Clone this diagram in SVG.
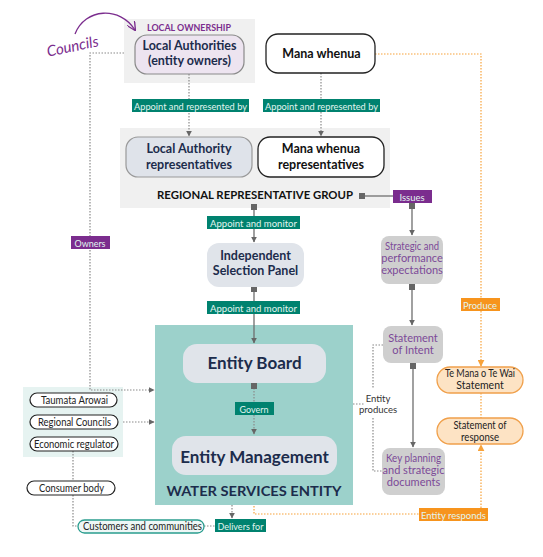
<svg xmlns="http://www.w3.org/2000/svg" width="543" height="557" viewBox="0 0 543 557">
<style>
  text { font-family: Lato, "Noto Sans", "Liberation Sans", sans-serif; }
  .bg { fill: #f0f0f0; }
  .navy { fill: #1c2c4c; font-weight: bold; }
  .blk { fill: #111; font-weight: bold; }
  .purp { fill: #7c4a98; font-size: 11px; }
  .dark { fill: #222; font-size: 10.5px; }
  .lab { font-size: 10px; fill: #e2f5ef; }
  .lt { fill: #00826f; }
  .lp { fill: #7b2d8e; }
  .lo { fill: #f7941d; }
  .solid { stroke: #6e6e6e; stroke-width: 1.3; fill: none; }
  .dot { stroke: #8a8a8a; stroke-width: 1.2; stroke-dasharray: 1.5 1.5; fill: none; }
  .odot { stroke: #f7a23a; stroke-width: 1.2; stroke-dasharray: 1.5 1.5; fill: none; }
  .sq { fill: #666; }
  .pill { fill: #fff; stroke: #222; stroke-width: 1.2; }
  .gbox { fill: #cfcfcf; }
  .ebox { fill: #e0e4ea; }
  .obox { fill: #fde3c4; stroke: #f0a04b; stroke-width: 1.3; }
</style>
<defs>
  <marker id="ag" viewBox="0 0 10 10" refX="9" refY="5" markerWidth="6" markerHeight="6" orient="auto" markerUnits="userSpaceOnUse">
    <path d="M0,0 L10,5 L0,10 z" fill="#666"/>
  </marker>
  <marker id="ao" viewBox="0 0 10 10" refX="9" refY="5" markerWidth="7" markerHeight="7" orient="auto" markerUnits="userSpaceOnUse">
    <path d="M0,0 L10,5 L0,10 z" fill="#f7a23a"/>
  </marker>
  <marker id="ap" viewBox="0 0 10 10" refX="9" refY="5" markerWidth="9" markerHeight="9" orient="auto" markerUnits="userSpaceOnUse">
    <path d="M0,0 L10,5 L0,10" fill="none" stroke="#7b2d8e" stroke-width="1.5"/>
  </marker>
</defs>

<!-- background panels -->
<rect class="bg" x="124" y="19" width="131" height="64"/>
<rect class="bg" x="120" y="128" width="270" height="80"/>
<rect x="155" y="325" width="198" height="180" fill="#9cd1cb"/>
<rect x="23" y="387" width="100" height="70" fill="#e6f3f1"/>

<!-- connectors -->
<g id="connectors">
  <path d="M75,34 C85,8 120,6 135,30" fill="none" stroke="#7b2d8e" stroke-width="1.3" marker-end="url(#ap)"/>
  <path class="dot" d="M189,74 V136" marker-end="url(#ag)"/>
  <path class="dot" d="M321,73 V136" marker-end="url(#ag)"/>
  <path class="solid" d="M254,207 V242" marker-end="url(#ag)"/>
  <path class="solid" d="M254,289 V343" marker-end="url(#ag)"/>
  <path class="dot" d="M254,385 V434" marker-end="url(#ag)"/>
  <path class="solid" d="M362,196 H393"/>
  <path class="solid" d="M412,205 V235" marker-end="url(#ag)"/>
  <path class="solid" d="M412,286 V325" marker-end="url(#ag)"/>
  <path class="solid" d="M413,365 V447" marker-end="url(#ag)"/>
  <path class="dot" d="M383,345 H373 V388 M373,418 V471 H382 M353,404 H364"/>
  <path class="dot" d="M124,53 H90 V390 H154" marker-end="url(#ag)"/>
  <path class="dot" d="M123,422 H154" marker-end="url(#ag)"/>
  <path class="dot" d="M73,451 V481 M73,495 V526 H78"/>
  <path class="dot" d="M204,526 H215"/>
  <path class="dot" d="M232,505 V518" marker-end="url(#ag)"/>
  <path class="odot" d="M254,506 V514 H419"/>
  <path class="odot" d="M481,508 V445" marker-end="url(#ao)"/>
  <path class="odot" d="M375,54 H481 V366" marker-end="url(#ao)"/>
  <path class="odot" d="M481,393 V418"/>
  <rect class="sq" x="359" y="193" width="6" height="6"/>
  <rect class="sq" x="251" y="204" width="6" height="6"/>
  <rect class="sq" x="251" y="286" width="6" height="6"/>
  <rect class="sq" x="251" y="383" width="6" height="6"/>
  <rect class="sq" x="409" y="203" width="6" height="6"/>
  <rect class="sq" x="409" y="284" width="6" height="6"/>
  <rect class="sq" x="410" y="363" width="6" height="6"/>
</g>

<!-- Councils annotation -->
<text x="46" y="52" transform="rotate(-12 70 45)" font-size="15" font-style="italic" fill="#7b2d8e" font-family="Lato, sans-serif">Councils</text>

<g id="local-ownership">
  <text x="189" y="31" text-anchor="middle" font-size="9" font-weight="bold" fill="#7b2d8e" textLength="84" lengthAdjust="spacingAndGlyphs">LOCAL OWNERSHIP</text>
</g>
<g id="local-authorities">
  <rect x="135" y="35" width="109" height="39" rx="12" fill="#ede4f0" stroke="#8a8a8a" stroke-width="1.2"/>
  <text class="navy" x="189.5" y="50" text-anchor="middle" font-size="12.5">Local Authorities</text>
  <text class="navy" x="189.5" y="65" text-anchor="middle" font-size="12.5">(entity owners)</text>
</g>
<g id="mana-whenua">
  <rect x="266" y="34" width="109" height="39" rx="12" fill="#fff" stroke="#222" stroke-width="1.3"/>
  <text class="blk" x="321.5" y="58" text-anchor="middle" font-size="12.5">Mana whenua</text>
</g>
<g id="la-reps">
  <rect x="126" y="137" width="126" height="40" rx="12" fill="#dfe3ea" stroke="#999" stroke-width="1.2"/>
  <text class="navy" x="189" y="153" text-anchor="middle" font-size="12.5">Local Authority</text>
  <text class="navy" x="189" y="169" text-anchor="middle" font-size="12.5">representatives</text>
</g>
<g id="mw-reps">
  <rect x="258" y="137" width="126" height="40" rx="12" fill="#fff" stroke="#222" stroke-width="1.3"/>
  <text class="blk" x="321" y="153" text-anchor="middle" font-size="12.5">Mana whenua</text>
  <text class="blk" x="321" y="169" text-anchor="middle" font-size="12.5">representatives</text>
</g>
<g id="regional-group">
  <text class="blk" x="255" y="199" text-anchor="middle" font-size="11" textLength="196" lengthAdjust="spacingAndGlyphs">REGIONAL REPRESENTATIVE GROUP</text>
</g>
<g id="isp">
  <rect class="ebox" x="207" y="243" width="97" height="44" rx="12"/>
  <text class="navy" x="255.5" y="260" text-anchor="middle" font-size="12.5">Independent</text>
  <text class="navy" x="255.5" y="275" text-anchor="middle" font-size="12.5">Selection Panel</text>
</g>
<g id="entity-board">
  <rect class="ebox" x="183" y="344" width="143" height="39" rx="14"/>
  <text class="navy" x="254.5" y="369" text-anchor="middle" font-size="17">Entity Board</text>
</g>
<g id="entity-management">
  <rect class="ebox" x="172" y="436" width="165" height="39" rx="14"/>
  <text class="navy" x="254.5" y="463" text-anchor="middle" font-size="17">Entity Management</text>
</g>
<g id="water-services-entity">
  <text class="navy" x="254" y="496" text-anchor="middle" font-size="14" textLength="175" lengthAdjust="spacingAndGlyphs">WATER SERVICES ENTITY</text>
</g>
<g id="strategic">
  <rect class="gbox" x="381" y="236" width="62" height="48" rx="8"/>
  <text class="purp" x="412" y="250" text-anchor="middle" textLength="54" lengthAdjust="spacingAndGlyphs">Strategic and</text>
  <text class="purp" x="412" y="262" text-anchor="middle">performance</text>
  <text class="purp" x="412" y="274" text-anchor="middle">expectations</text>
</g>
<g id="statement-of-intent">
  <rect class="gbox" x="383" y="326" width="60" height="37" rx="8"/>
  <text class="purp" x="413" y="342" text-anchor="middle">Statement</text>
  <text class="purp" x="413" y="354" text-anchor="middle">of Intent</text>
</g>
<g id="key-planning">
  <rect class="gbox" x="382" y="448" width="63" height="47" rx="8"/>
  <text class="purp" x="413.5" y="462" text-anchor="middle" textLength="55" lengthAdjust="spacingAndGlyphs">Key planning</text>
  <text class="purp" x="413.5" y="474" text-anchor="middle">and strategic</text>
  <text class="purp" x="413.5" y="486" text-anchor="middle">documents</text>
</g>
<g id="entity-produces">
  <text x="378" y="402" text-anchor="middle" font-size="9.5" fill="#333">Entity</text>
  <text x="378" y="413" text-anchor="middle" font-size="9.5" fill="#333">produces</text>
</g>
<g id="te-mana-o-te-wai">
  <rect class="obox" x="437" y="367" width="86" height="26" rx="13"/>
  <text class="dark" x="480" y="377" text-anchor="middle" textLength="70" lengthAdjust="spacingAndGlyphs">Te Mana o Te Wai</text>
  <text class="dark" x="480" y="389" text-anchor="middle">Statement</text>
</g>
<g id="statement-of-response">
  <rect class="obox" x="437" y="418" width="86" height="26" rx="13"/>
  <text class="dark" x="480" y="429" text-anchor="middle" textLength="53" lengthAdjust="spacingAndGlyphs">Statement of</text>
  <text class="dark" x="480" y="441" text-anchor="middle" textLength="38" lengthAdjust="spacingAndGlyphs">response</text>
</g>
<g id="taumata-arowai">
  <rect class="pill" x="30" y="393" width="87" height="14" rx="7"/>
  <text class="dark" x="74.5" y="403.5" text-anchor="middle" textLength="67" lengthAdjust="spacingAndGlyphs">Taumata Arowai</text>
</g>
<g id="regional-councils">
  <rect class="pill" x="30" y="415" width="88" height="14" rx="7"/>
  <text class="dark" x="74.5" y="425.5" text-anchor="middle" textLength="73" lengthAdjust="spacingAndGlyphs">Regional Councils</text>
</g>
<g id="economic-regulator">
  <rect class="pill" x="30" y="437" width="88" height="14" rx="7"/>
  <text class="dark" x="74" y="447.5" text-anchor="middle" textLength="80" lengthAdjust="spacingAndGlyphs">Economic regulator</text>
</g>
<g id="consumer-body">
  <rect class="pill" x="27" y="481" width="88" height="14" rx="7"/>
  <text class="dark" x="71.5" y="491.5" text-anchor="middle" textLength="65" lengthAdjust="spacingAndGlyphs">Consumer body</text>
</g>
<g id="customers">
  <rect x="78" y="520" width="126" height="13" rx="6.5" fill="#eef7f6" stroke="#2a9d8f" stroke-width="1.3"/>
  <text class="dark" x="142.5" y="530" text-anchor="middle" textLength="119" lengthAdjust="spacingAndGlyphs">Customers and communities</text>
</g>

<!-- connector labels -->
<g id="labels">
  <rect class="lt" x="132" y="99" width="117" height="13"/>
  <text class="lab" x="190.5" y="109.5" text-anchor="middle" textLength="113" lengthAdjust="spacingAndGlyphs">Appoint and represented by</text>
  <rect class="lt" x="263" y="99" width="117" height="13"/>
  <text class="lab" x="321.5" y="109.5" text-anchor="middle" textLength="113" lengthAdjust="spacingAndGlyphs">Appoint and represented by</text>
  <rect class="lp" x="393" y="190" width="39" height="13"/>
  <text class="lab" x="412" y="200.5" text-anchor="middle" textLength="25" lengthAdjust="spacingAndGlyphs">Issues</text>
  <rect class="lt" x="207" y="216" width="93" height="13"/>
  <text class="lab" x="253.5" y="226.5" text-anchor="middle" textLength="87" lengthAdjust="spacingAndGlyphs">Appoint and monitor</text>
  <rect class="lp" x="71" y="236" width="39" height="13"/>
  <text class="lab" x="90" y="246.5" text-anchor="middle" textLength="31" lengthAdjust="spacingAndGlyphs">Owners</text>
  <rect class="lt" x="207" y="301" width="93" height="13"/>
  <text class="lab" x="253.5" y="311.5" text-anchor="middle" textLength="87" lengthAdjust="spacingAndGlyphs">Appoint and monitor</text>
  <rect class="lo" x="461" y="298" width="39" height="13"/>
  <text class="lab" x="480" y="308.5" text-anchor="middle" fill="#fff" textLength="34" lengthAdjust="spacingAndGlyphs">Produce</text>
  <rect class="lt" x="235" y="402" width="39" height="13"/>
  <text class="lab" x="254" y="412.5" text-anchor="middle" textLength="29" lengthAdjust="spacingAndGlyphs">Govern</text>
  <rect class="lt" x="215" y="519" width="51" height="13"/>
  <text class="lab" x="240.5" y="529.5" text-anchor="middle" textLength="46" lengthAdjust="spacingAndGlyphs">Delivers for</text>
  <rect class="lo" x="419" y="508" width="69" height="13"/>
  <text class="lab" x="453.5" y="518.5" text-anchor="middle" fill="#fff" textLength="65" lengthAdjust="spacingAndGlyphs">Entity responds</text>
</g>
</svg>
